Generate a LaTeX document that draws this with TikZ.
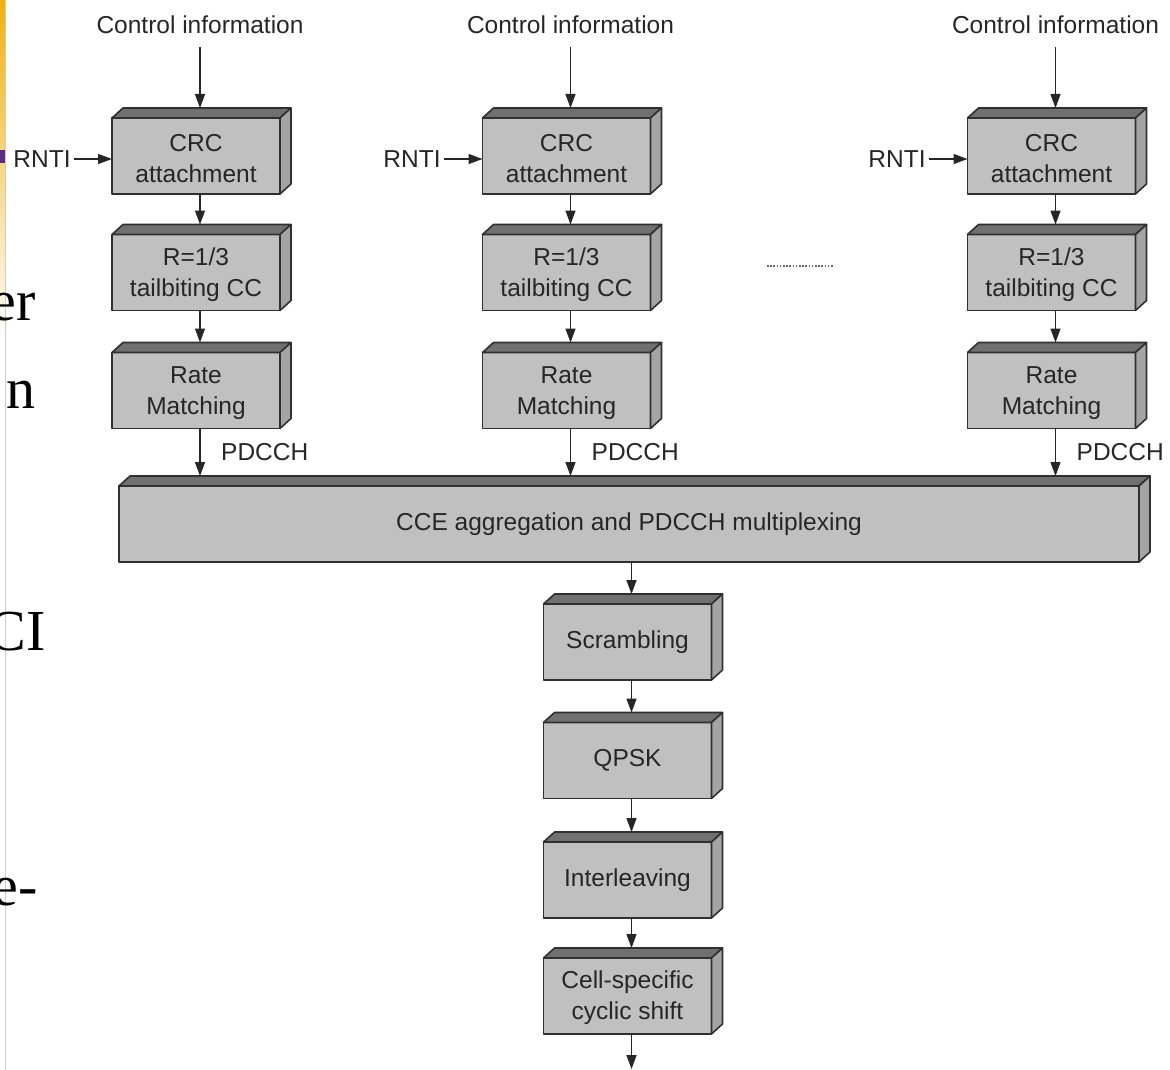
\documentclass[tikz,border=0pt]{standalone}
\usepackage{fontspec}
\setmainfont{Liberation Sans}
\newfontfamily\slidefont{Liberation Serif}
\usetikzlibrary{arrows.meta}
\definecolor{frontc}{HTML}{C0C0C0}
\definecolor{topc}{HTML}{707070}
\definecolor{sidec}{HTML}{A4A4A4}
\definecolor{edgec}{HTML}{303030}
\definecolor{txtc}{HTML}{262626}
\definecolor{barY}{HTML}{EEB014}
\definecolor{barP}{HTML}{5A2D82}
\newcommand\lblfont{\fontsize{24.5}{31}\selectfont}
\newcommand\boxfaces[1]{%
  \draw[faceline, fill=topc] (#1.north west) -- ++(11,-10) -- ([shift={(11,-10)}]#1.north east) -- (#1.north east) -- cycle;
  \draw[faceline, fill=sidec] (#1.north east) -- ++(11,-10) -- ([shift={(11,-10)}]#1.south east) -- (#1.south east) -- cycle;
}
\begin{document}
\begin{tikzpicture}[x=1pt,y=-1pt,
  faceline/.style={draw=edgec, line width=1.6pt, line join=round},
  blk/.style={draw=edgec, fill=frontc, line width=1.6pt, line join=round,
    minimum width=168pt, minimum height=76pt, inner sep=0pt, outer sep=0pt,
    align=center, font=\lblfont, text=txtc},
  lbl/.style={font=\lblfont, text=txtc, inner sep=3pt},
  arr/.style={draw=txtc, line width=1.4pt, -{Triangle[length=14pt,width=10pt]}},
  frag/.style={font=\slidefont\fontsize{58}{60}\selectfont, anchor=base east, inner sep=0pt, text=black}
]
\useasboundingbox (0,0) rectangle (1170,1070);

% slide fragment at the left edge
\begin{scope}
\clip (0,0) rectangle (1170,1070);
\shade[top color=barY, bottom color=white] (0,0) rectangle (5,340);
\fill[barP] (0,150) rectangle (5,163);
\draw[gray!40, line width=1pt] (5.5,0) -- (5.5,1070);
\node[frag] (f1) at (36,320) {er};
\node[frag] (f2) at (36,408) {n};
\node[frag] (f3) at (46,650) {CI};
\node[frag] (f4) at (38,905) {e-};
\end{scope}

% columns
\foreach \c/\x/\r in {1/196/42, 2/566.5/412, 3/1051.5/897}{
  \node[lbl] (ci\c) at (\x+4,25) {Control information};
  \node[blk] (crc\c) at (\x,156) {\strut CRC\\attachment};
  \node[blk] (tb\c) at (\x,272.5) {\strut R=1/3\\tailbiting CC};
  \node[blk] (rm\c) at (\x,390.5) {\strut Rate\\Matching};
  \node[lbl] (rn\c) at (\r,159) {RNTI};
  \node[lbl, anchor=west] (pd\c) at (\x+22,452) {PDCCH};
}
\node[blk, minimum width=1020pt] (cce) at (629,524) {\strut CCE aggregation and PDCCH multiplexing};

\node[blk] (scr) at (627.5,642) {\strut Scrambling};
\node[blk] (qp) at (627.5,760.5) {\strut QPSK};
\node[blk] (il) at (627.5,880) {\strut Interleaving};
\node[blk] (cs) at (627.5,996) {\strut Cell-specific\\cyclic shift};
\coordinate (out) at (631.5,1069);

\foreach \n in {crc1,tb1,rm1,crc2,tb2,rm2,crc3,tb3,rm3,cce,scr,qp,il,cs}{\boxfaces{\n}}

\foreach \c in {1,2,3}{
  \draw[arr] ([yshift=-22pt]ci\c.center) -- ([xshift=4pt,yshift=10pt]crc\c.north);
  \draw[arr] ([xshift=4pt]crc\c.south) -- ([xshift=4pt,yshift=10pt]tb\c.north);
  \draw[arr] ([xshift=4pt]tb\c.south) -- ([xshift=4pt,yshift=10pt]rm\c.north);
  \draw[arr] ([xshift=4pt]rm\c.south) -- ([xshift=4pt,yshift=10pt]rm\c.south |- cce.north);
  \draw[arr] (rn\c.east) -- (rn\c.east -| crc\c.west);
}
\draw[arr] ([xshift=4pt]scr.north |- cce.south) -- ([xshift=4pt,yshift=10pt]scr.north);
\draw[arr] ([xshift=4pt]scr.south) -- ([xshift=4pt,yshift=10pt]qp.north);
\draw[arr] ([xshift=4pt]qp.south) -- ([xshift=4pt,yshift=10pt]il.north);
\draw[arr] ([xshift=4pt]il.south) -- ([xshift=4pt,yshift=10pt]cs.north);
\draw[arr] ([xshift=4pt]cs.south) -- (out);

\draw[gray!80!black, line width=1.6pt, dash pattern=on 1.6pt off 1.6pt] (767,266) -- (833,266);
\end{tikzpicture}
\end{document}
